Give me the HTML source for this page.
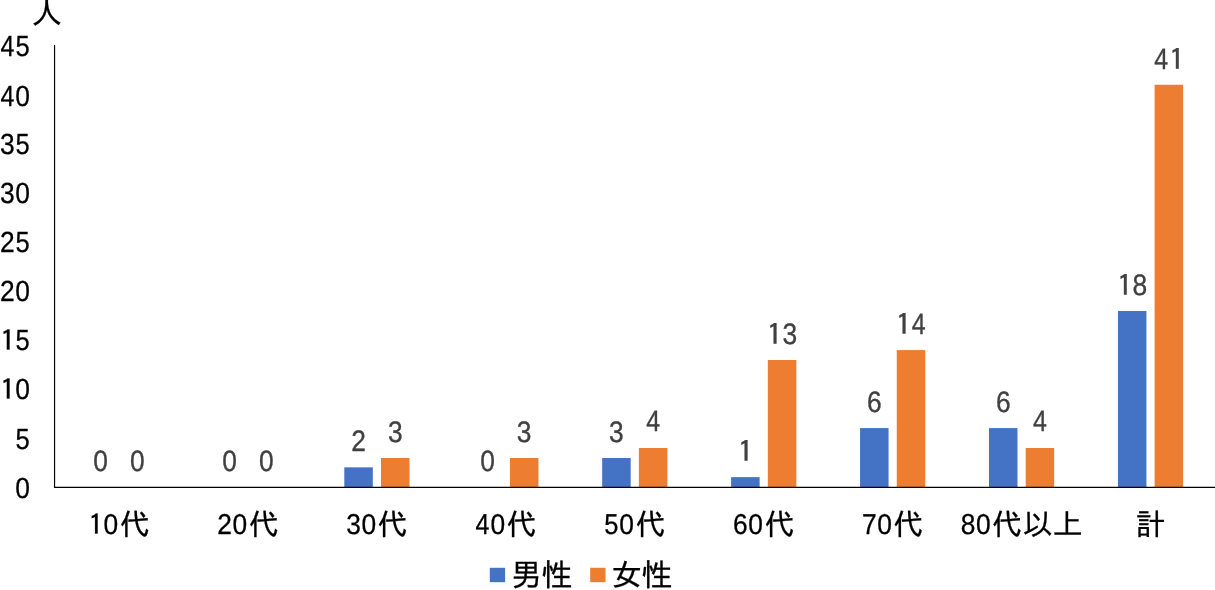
<!DOCTYPE html>
<html lang="ja">
<head>
<meta charset="utf-8">
<title>年代別・男女別 人数</title>
<style>
html,body{margin:0;padding:0;background:#fff;}
body{width:1215px;height:590px;overflow:hidden;}
svg{display:block;text-rendering:geometricPrecision;}
text{font-family:"Liberation Sans","IPAGothic",sans-serif;}
.ax{fill:#000;stroke:#000;stroke-width:0.3px;}
.yl{font-size:29.20px;}
.cl{font-size:28.70px;}
.dl{fill:#404040;stroke:#404040;stroke-width:0.35px;font-size:29.60px;}
.one{font-family:"IPAGothic","Liberation Sans",sans-serif;}
.kj{font-family:"IPAGothic","Liberation Sans",sans-serif;font-size:30.00px;stroke:#000;stroke-width:0.3px;}
.lg{font-family:"IPAGothic","Liberation Sans",sans-serif;font-size:31.00px;fill:#000;stroke:#000;stroke-width:0.3px;}
</style>
</head>
<body>
<svg width="1215" height="590" viewBox="0 0 1215 590">
<rect x="0" y="0" width="1215" height="590" fill="#ffffff"/>
<text class="ax kj" x="31.2" y="23.5" style="font-size:31px">人</text>
<g>
<rect x="344.30" y="467.35" width="28.50" height="19.93" fill="#4472C4"/>
<rect x="381.00" y="458.00" width="28.50" height="29.28" fill="#ED7D31"/>
<rect x="509.94" y="458.00" width="28.50" height="29.28" fill="#ED7D31"/>
<rect x="602.18" y="458.00" width="28.50" height="29.28" fill="#4472C4"/>
<rect x="638.88" y="448.00" width="28.50" height="39.28" fill="#ED7D31"/>
<rect x="731.12" y="477.15" width="28.50" height="10.13" fill="#4472C4"/>
<rect x="767.82" y="360.00" width="28.50" height="127.28" fill="#ED7D31"/>
<rect x="860.06" y="428.10" width="28.50" height="59.18" fill="#4472C4"/>
<rect x="896.76" y="350.10" width="28.50" height="137.18" fill="#ED7D31"/>
<rect x="988.99" y="428.10" width="28.50" height="59.18" fill="#4472C4"/>
<rect x="1025.69" y="448.00" width="28.50" height="39.28" fill="#ED7D31"/>
<rect x="1117.93" y="311.00" width="28.50" height="176.28" fill="#4472C4"/>
<rect x="1154.63" y="84.75" width="28.50" height="402.53" fill="#ED7D31"/>
</g>
<line x1="54.56" y1="45.01" x2="54.56" y2="487.88" stroke="#000" stroke-width="1.15"/>
<line x1="54.06" y1="487.28" x2="1215.00" y2="487.28" stroke="#000" stroke-width="1.2"/>
<g class="ax yl">
<text><tspan x="15.31" y="498.00" textLength="14.68" lengthAdjust="spacingAndGlyphs">0</tspan></text>
<text><tspan x="15.55" y="449.00" textLength="14.21" lengthAdjust="spacingAndGlyphs">5</tspan></text>
<text><tspan class="one" style="font-size:28.76px" x="-0.07" y="400.00" textLength="15.53" lengthAdjust="spacingAndGlyphs">1</tspan><tspan x="15.31" y="399.00" textLength="14.68" lengthAdjust="spacingAndGlyphs">0</tspan></text>
<text><tspan class="one" style="font-size:28.76px" x="-0.07" y="351.00" textLength="15.53" lengthAdjust="spacingAndGlyphs">1</tspan><tspan x="15.55" y="350.00" textLength="14.21" lengthAdjust="spacingAndGlyphs">5</tspan></text>
<text><tspan x="0.01" y="301.00" textLength="14.68" lengthAdjust="spacingAndGlyphs">2</tspan><tspan x="15.31" y="301.00" textLength="14.68" lengthAdjust="spacingAndGlyphs">0</tspan></text>
<text><tspan x="0.01" y="252.00" textLength="14.68" lengthAdjust="spacingAndGlyphs">2</tspan><tspan x="15.55" y="252.00" textLength="14.21" lengthAdjust="spacingAndGlyphs">5</tspan></text>
<text><tspan x="0.01" y="203.00" textLength="14.68" lengthAdjust="spacingAndGlyphs">3</tspan><tspan x="15.31" y="203.00" textLength="14.68" lengthAdjust="spacingAndGlyphs">0</tspan></text>
<text><tspan x="0.01" y="154.00" textLength="14.68" lengthAdjust="spacingAndGlyphs">3</tspan><tspan x="15.55" y="154.00" textLength="14.21" lengthAdjust="spacingAndGlyphs">5</tspan></text>
<text><tspan x="0.41" y="106.00" textLength="13.89" lengthAdjust="spacingAndGlyphs">4</tspan><tspan x="15.31" y="106.00" textLength="14.68" lengthAdjust="spacingAndGlyphs">0</tspan></text>
<text><tspan x="0.41" y="56.00" textLength="13.89" lengthAdjust="spacingAndGlyphs">4</tspan><tspan x="15.55" y="56.00" textLength="14.21" lengthAdjust="spacingAndGlyphs">5</tspan></text>
</g>
<g class="ax cl">
<text><tspan class="one" style="font-size:28.27px" x="88.37" y="535.00" textLength="15.27" lengthAdjust="spacingAndGlyphs">1</tspan><tspan x="103.59" y="534.00" textLength="14.68" lengthAdjust="spacingAndGlyphs">0</tspan><tspan class="kj" x="119.98" y="535.0">代</tspan></text>
<text><tspan x="217.22" y="534.00" textLength="14.68" lengthAdjust="spacingAndGlyphs">2</tspan><tspan x="232.52" y="534.00" textLength="14.68" lengthAdjust="spacingAndGlyphs">0</tspan><tspan class="kj" x="248.92" y="535.0">代</tspan></text>
<text><tspan x="346.16" y="534.00" textLength="14.68" lengthAdjust="spacingAndGlyphs">3</tspan><tspan x="361.46" y="534.00" textLength="14.68" lengthAdjust="spacingAndGlyphs">0</tspan><tspan class="kj" x="377.85" y="535.0">代</tspan></text>
<text><tspan x="475.50" y="534.00" textLength="13.89" lengthAdjust="spacingAndGlyphs">4</tspan><tspan x="490.40" y="534.00" textLength="14.68" lengthAdjust="spacingAndGlyphs">0</tspan><tspan class="kj" x="506.79" y="535.0">代</tspan></text>
<text><tspan x="604.28" y="534.00" textLength="14.21" lengthAdjust="spacingAndGlyphs">5</tspan><tspan x="619.34" y="534.00" textLength="14.68" lengthAdjust="spacingAndGlyphs">0</tspan><tspan class="kj" x="635.73" y="535.0">代</tspan></text>
<text><tspan x="732.98" y="534.00" textLength="14.68" lengthAdjust="spacingAndGlyphs">6</tspan><tspan x="748.28" y="534.00" textLength="14.68" lengthAdjust="spacingAndGlyphs">0</tspan><tspan class="kj" x="764.67" y="535.0">代</tspan></text>
<text><tspan x="861.91" y="534.00" textLength="14.68" lengthAdjust="spacingAndGlyphs">7</tspan><tspan x="877.21" y="534.00" textLength="14.68" lengthAdjust="spacingAndGlyphs">0</tspan><tspan class="kj" x="893.61" y="535.0">代</tspan></text>
<text><tspan x="960.65" y="534.00" textLength="14.68" lengthAdjust="spacingAndGlyphs">8</tspan><tspan x="975.95" y="534.00" textLength="14.68" lengthAdjust="spacingAndGlyphs">0</tspan><tspan class="kj" x="992.34 1022.54 1052.74" y="535.0">代以上</tspan></text>
<text><tspan class="kj" x="1135.53" y="535.0">計</tspan></text>
</g>
<g class="dl">
<text><tspan x="93.34" y="471.38" textLength="14.68" lengthAdjust="spacingAndGlyphs">0</tspan></text>
<text><tspan x="130.04" y="471.38" textLength="14.68" lengthAdjust="spacingAndGlyphs">0</tspan></text>
<text><tspan x="222.27" y="471.38" textLength="14.68" lengthAdjust="spacingAndGlyphs">0</tspan></text>
<text><tspan x="258.97" y="471.38" textLength="14.68" lengthAdjust="spacingAndGlyphs">0</tspan></text>
<text><tspan x="351.21" y="451.45" textLength="14.68" lengthAdjust="spacingAndGlyphs">2</tspan></text>
<text><tspan x="387.91" y="442.10" textLength="14.68" lengthAdjust="spacingAndGlyphs">3</tspan></text>
<text><tspan x="480.15" y="471.38" textLength="14.68" lengthAdjust="spacingAndGlyphs">0</tspan></text>
<text><tspan x="516.85" y="442.10" textLength="14.68" lengthAdjust="spacingAndGlyphs">3</tspan></text>
<text><tspan x="609.09" y="442.10" textLength="14.68" lengthAdjust="spacingAndGlyphs">3</tspan></text>
<text><tspan x="646.19" y="431.00" textLength="13.89" lengthAdjust="spacingAndGlyphs">4</tspan></text>
<text><tspan class="one" style="font-size:29.16px" x="737.81" y="462.00" textLength="15.74" lengthAdjust="spacingAndGlyphs">1</tspan></text>
<text><tspan class="one" style="font-size:29.16px" x="766.86" y="345.00" textLength="15.74" lengthAdjust="spacingAndGlyphs">1</tspan><tspan x="782.38" y="344.10" textLength="14.68" lengthAdjust="spacingAndGlyphs">3</tspan></text>
<text><tspan x="866.96" y="412.20" textLength="14.68" lengthAdjust="spacingAndGlyphs">6</tspan></text>
<text><tspan class="one" style="font-size:29.16px" x="895.80" y="335.00" textLength="15.74" lengthAdjust="spacingAndGlyphs">1</tspan><tspan x="911.71" y="334.20" textLength="13.89" lengthAdjust="spacingAndGlyphs">4</tspan></text>
<text><tspan x="995.90" y="412.20" textLength="14.68" lengthAdjust="spacingAndGlyphs">6</tspan></text>
<text><tspan x="1033.00" y="431.00" textLength="13.89" lengthAdjust="spacingAndGlyphs">4</tspan></text>
<text><tspan class="one" style="font-size:29.16px" x="1116.98" y="296.00" textLength="15.74" lengthAdjust="spacingAndGlyphs">1</tspan><tspan x="1132.49" y="295.10" textLength="14.68" lengthAdjust="spacingAndGlyphs">8</tspan></text>
<text><tspan x="1154.29" y="68.85" textLength="13.89" lengthAdjust="spacingAndGlyphs">4</tspan><tspan class="one" style="font-size:29.16px" x="1168.98" y="70.00" textLength="15.74" lengthAdjust="spacingAndGlyphs">1</tspan></text>
</g>
<rect x="489.8" y="567.8" width="15.3" height="14.4" fill="#4472C4"/>
<text class="lg" x="510.7 541.4" y="586.0">男性</text>
<rect x="590.2" y="567.8" width="15.3" height="14.4" fill="#ED7D31"/>
<text class="lg" x="611.2 641.4" y="586.0">女性</text>
</svg>
</body>
</html>
